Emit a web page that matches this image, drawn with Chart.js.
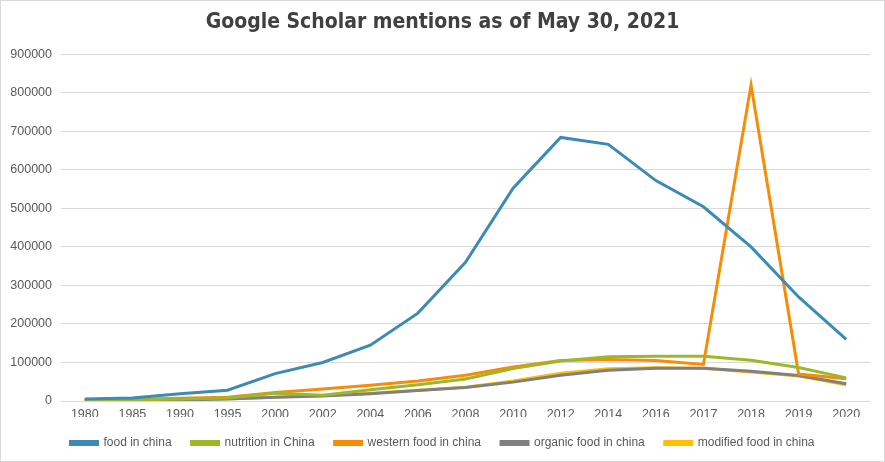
<!DOCTYPE html>
<html>
<head>
<meta charset="utf-8">
<script src="https://cdn.jsdelivr.net/npm/chart.js@4"></script>
<style>
  html, body { margin: 0; padding: 0; background: #fff; }
  #wrap { width: 885px; height: 462px; box-sizing: border-box; border: 1px solid #d9d9d9; }
</style>
</head>
<body>
<div id="wrap"><canvas id="chart" width="883" height="460"></canvas></div>
<script>
const years = ['1980', '1985', '1990', '1995', '2000', '2002', '2004', '2006', '2008',
  '2010', '2012', '2014', '2016', '2017', '2018', '2019', '2020'];

const foodInChina = [5000, 8000, 19000, 28000, 71000, 100000, 145000, 228000, 360000,
  552000, 684000, 666000, 572000, 504000, 400000, 270000, 160000];
const nutritionInChina = [2000, 3000, 5000, 8000, 20000, 15000, 29000, 42000, 57000,
  84000, 104000, 115000, 116000, 116000, 106000, 87000, 60000];
const westernFood = [3000, 4000, 7000, 10000, 22000, 31000, 41000, 52000, 67000,
  88000, 105000, 108000, 105000, 95000, 820000, 70000, 58000];
const organicFood = [1000, 2000, 3000, 5000, 10000, 13000, 19000, 27000, 35000,
  49000, 67000, 80000, 85000, 85000, 77000, 66000, 45000];
const modifiedFood = [1000, 2000, 4000, 6000, 9500, 14000, 20000, 28000, 36000,
  52000, 72000, 84000, 86000, 85000, 75000, 65000, 42000];

const yTicks = [0, 100000, 200000, 300000, 400000, 500000, 600000, 700000, 800000, 900000];

function series(label, data, color) {
  return {
    label: label,
    data: data,
    borderColor: color,
    backgroundColor: color,
    borderWidth: 3,
    pointRadius: 0,
    tension: 0
  };
}

const textColor = '#595959';
const gridColor = '#d9d9d9';

new Chart(document.getElementById('chart'), {
  type: 'line',
  data: {
    labels: years,
    datasets: [
      series('food in china', foodInChina, '#3d8bb5'),
      series('nutrition in China', nutritionInChina, '#9cb82a'),
      series('western food in china', westernFood, '#f78d05'),
      series('organic food in china', organicFood, '#808080'),
      series('modified food in china', modifiedFood, '#ffc000')
    ]
  },
  options: {
    responsive: false,
    animation: false,
    layout: { padding: { left: 0, right: 0, top: 0, bottom: 2 } },
    plugins: {
      title: {
        display: true,
        text: 'Google Scholar mentions as of May 30, 2021',
        color: '#404040',
        font: { family: '"DejaVu Sans Condensed", "Liberation Sans Narrow", "DejaVu Sans", sans-serif', size: 21, weight: 'bold' },
        padding: { top: 9, bottom: 19 }
      },
      legend: {
        position: 'bottom',
        labels: {
          color: textColor,
          font: { family: '"Liberation Sans", Arial, sans-serif', size: 12 },
          boxWidth: 27,
          boxHeight: 3,
          padding: 20
        }
      },
      tooltip: { enabled: false }
    },
    scales: {
      x: {
        offset: true,
        // labels overlap into the legend gap a little, like Excel
        afterFit: (scale) => { scale.height -= 11; },
        grid: { display: false, drawTicks: false },
        border: { display: false },
        ticks: {
          color: textColor,
          font: { family: '"Liberation Sans", Arial, sans-serif', size: 12.5 },
          padding: 6,
          maxRotation: 0,
          autoSkip: false
        }
      },
      y: {
        min: 0,
        max: 900000,
        afterFit: (scale) => { scale.width = 60; },
        afterBuildTicks: (scale) => { scale.ticks = yTicks.map(v => ({ value: v })); },
        grid: { color: gridColor, lineWidth: 1, drawTicks: false },
        border: { display: false },
        ticks: {
          color: textColor,
          font: { family: '"Liberation Sans", Arial, sans-serif', size: 12.5 },
          padding: 9,
          callback: (v) => String(v)
        }
      },
      // empty right-hand axis, only to leave Excel's right margin
      yRight: {
        position: 'right',
        afterFit: (scale) => { scale.width = 14; },
        grid: { display: false, drawTicks: false },
        border: { display: false },
        ticks: { display: false }
      }
    }
  }
});
</script>
</body>
</html>
